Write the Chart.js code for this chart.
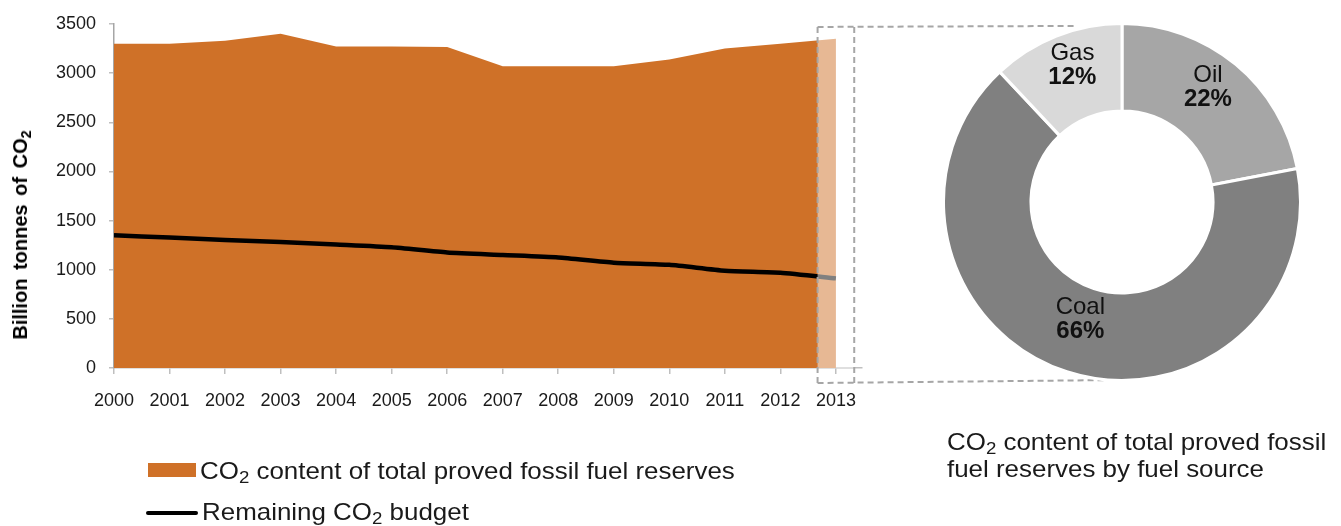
<!DOCTYPE html>
<html>
<head>
<meta charset="utf-8">
<script src="https://cdn.jsdelivr.net/npm/chart.js@4.4.0/dist/chart.umd.min.js"></script>
<style>
  html, body { margin: 0; padding: 0; background: #fff; width: 1341px; height: 526px; overflow: hidden; }
  body { position: relative; font-family: "Liberation Sans", Arial, sans-serif; color: #1a1a1a; }
  #lineWrap { position: absolute; left: 0; top: 0; width: 1341px; height: 526px; }
  #donutWrap { position: absolute; left: 942px; top: 22px; width: 360px; height: 360px; }
  .txt { position: absolute; font-size: 24px; line-height: 28px; white-space: nowrap; transform: scaleX(1.08); transform-origin: left center; }
  sub { font-size: 0.72em; vertical-align: -0.25em; line-height: 0; }
  .swatch { position: absolute; left: 148px; top: 463px; width: 48px; height: 14px; background: #CF7128; }
  .lineSw { position: absolute; left: 146px; top: 511px; width: 52px; height: 4px; background: #000; border-radius: 2px; }
  #yTitle { position: absolute; left: 20px; top: 235px; transform: translate(-50%, -50%) rotate(-90deg); font-size: 20px; font-weight: bold; color: #000; white-space: nowrap; line-height: 24px; word-spacing: 3px; }
</style>
</head>
<body>
<div id="lineWrap"><canvas id="lineChart"></canvas></div>
<div id="donutWrap"><canvas id="donutChart"></canvas></div>

<div id="yTitle">Billion tonnes of CO<sub>2</sub></div>

<div class="swatch"></div>
<div class="txt" style="left:200px; top:457px;">CO<sub>2</sub> content of total proved fossil fuel reserves</div>
<div class="lineSw"></div>
<div class="txt" style="left:202px; top:498px;">Remaining CO<sub>2</sub> budget</div>

<div class="txt" style="left:947px; top:428px; line-height:27px;">CO<sub>2</sub> content of total proved fossil<br>fuel reserves by fuel source</div>

<script>
// ---- data ----
const years = [2000, 2001, 2002, 2003, 2004, 2005, 2006, 2007, 2008, 2009, 2010, 2011, 2012, 2013];
const reserves = [3300, 3300, 3330, 3400, 3270, 3270, 3265, 3070, 3070, 3070, 3140, 3250, 3300, 3350];
const budget = [1350, 1328, 1302, 1282, 1256, 1228, 1175, 1150, 1125, 1072, 1050, 990, 970, 912];
const yTicks = [0, 500, 1000, 1500, 2000, 2500, 3000, 3500];

const fuels = ['Oil', 'Coal', 'Gas'];
const fuelShares = [22, 66, 12];

// ---- callout (decoration) ----
const callout = {
  fromYear: 2012.67,
  toYear: 2013.33,
  topValue: 3470,
  bottomOffset: 15,
  topEndX: 1077,
  bottomEndX: 1117
};

const calloutPlugin = {
  id: 'callout',
  afterDatasetsDraw(chart) {
    const ctx = chart.ctx;
    const xs = chart.scales.x, ys = chart.scales.y;
    const x0 = xs.getPixelForValue(callout.fromYear);
    const x1 = xs.getPixelForValue(callout.toYear);
    const yTop = ys.getPixelForValue(callout.topValue);
    const yAxis = ys.getPixelForValue(0);
    ctx.save();
    ctx.fillStyle = 'rgba(255,255,255,0.5)';
    ctx.fillRect(x0, yTop - 10, x1 - x0, yAxis - yTop + 10);
    ctx.restore();
  },
  afterDraw(chart) {
    const ctx = chart.ctx;
    const xs = chart.scales.x, ys = chart.scales.y;
    const x0 = xs.getPixelForValue(callout.fromYear);
    const x1 = xs.getPixelForValue(callout.toYear);
    const yTop = ys.getPixelForValue(callout.topValue);
    const yBot = ys.getPixelForValue(0) + callout.bottomOffset;
    ctx.save();
    ctx.strokeStyle = '#A6A6A6';
    ctx.lineWidth = 2;
    ctx.setLineDash([6, 4]);
    ctx.beginPath();
    ctx.moveTo(x0, yTop); ctx.lineTo(x0, yBot);
    ctx.moveTo(x1, yTop); ctx.lineTo(x1, yBot);
    ctx.moveTo(x0, yTop); ctx.lineTo(callout.topEndX, yTop - 1);
    ctx.moveTo(x0, yBot); ctx.lineTo(callout.bottomEndX, yBot - 3);
    ctx.stroke();
    ctx.restore();
  }
};

const tickFont = { family: '"Liberation Sans", Arial, sans-serif', size: 18 };

new Chart(document.getElementById('lineChart'), {
  type: 'line',
  data: {
    datasets: [
      {
        label: 'Remaining CO₂ budget',
        data: years.map((y, i) => ({ x: y, y: budget[i] })),
        borderColor: '#000',
        borderWidth: 4.5,
        pointRadius: 0,
        tension: 0.2,
        fill: false,
        order: 0
      },
      {
        label: 'CO₂ content of total proved fossil fuel reserves',
        data: years.map((y, i) => ({ x: y, y: reserves[i] })),
        borderWidth: 0,
        borderColor: 'rgba(0,0,0,0)',
        backgroundColor: '#CF7128',
        pointRadius: 0,
        tension: 0,
        fill: 'origin',
        order: 1
      }
    ]
  },
  options: {
    responsive: true,
    maintainAspectRatio: false,
    animation: false,
    layout: { padding: { left: 0, top: 24, right: 479, bottom: 0 } },
    plugins: { legend: { display: false }, tooltip: { enabled: false } },
    scales: {
      x: {
        type: 'linear',
        min: years[0],
        max: 2013.47,
        afterFit(s) { s.height = 158; },
        afterBuildTicks(s) { s.ticks = years.map(v => ({ value: v })); },
        ticks: { font: tickFont, color: '#1a1a1a', padding: 16, maxRotation: 0, autoSkip: false, callback: v => String(v) },
        grid: { display: true, drawOnChartArea: false, drawTicks: true, tickLength: 6, color: '#BFBFBF', lineWidth: 1.5 },
        border: { display: true, color: '#BFBFBF', width: 1.5 }
      },
      y: {
        min: 0,
        max: 3500,
        afterFit(s) { s.width = 114; },
        afterBuildTicks(s) { s.ticks = yTicks.map(v => ({ value: v })); },
        ticks: { font: tickFont, color: '#1a1a1a', padding: 13, callback: v => String(v) },
        grid: { display: true, drawOnChartArea: false, drawTicks: true, tickLength: 5, color: '#BFBFBF', lineWidth: 1.5 },
        border: { display: true, color: '#A6A6A6', width: 1.5 },
        title: { display: false }
      }
    }
  },
  plugins: [calloutPlugin]
});

const donutLabelPlugin = {
  id: 'donutLabels',
  afterDatasetsDraw(chart) {
    const ctx = chart.ctx;
    const meta = chart.getDatasetMeta(0);
    ctx.save();
    ctx.textAlign = 'center';
    ctx.textBaseline = 'middle';
    ctx.fillStyle = '#111';
    meta.data.forEach((arc, i) => {
      const p = arc.tooltipPosition();
      ctx.font = '24px "Liberation Sans", Arial, sans-serif';
      ctx.fillText(fuels[i], p.x, p.y - 23);
      ctx.font = 'bold 24px "Liberation Sans", Arial, sans-serif';
      ctx.fillText(fuelShares[i] + '%', p.x, p.y + 1);
    });
    ctx.restore();
  }
};

new Chart(document.getElementById('donutChart'), {
  type: 'doughnut',
  data: {
    labels: fuels,
    datasets: [{
      data: fuelShares,
      backgroundColor: ['#A6A6A6', '#808080', '#D9D9D9'],
      borderColor: '#fff',
      borderWidth: 3
    }]
  },
  options: {
    responsive: true,
    maintainAspectRatio: false,
    animation: false,
    cutout: '51%',
    layout: { padding: 0 },
    plugins: { legend: { display: false }, tooltip: { enabled: false } }
  },
  plugins: [donutLabelPlugin]
});
</script>
</body>
</html>
